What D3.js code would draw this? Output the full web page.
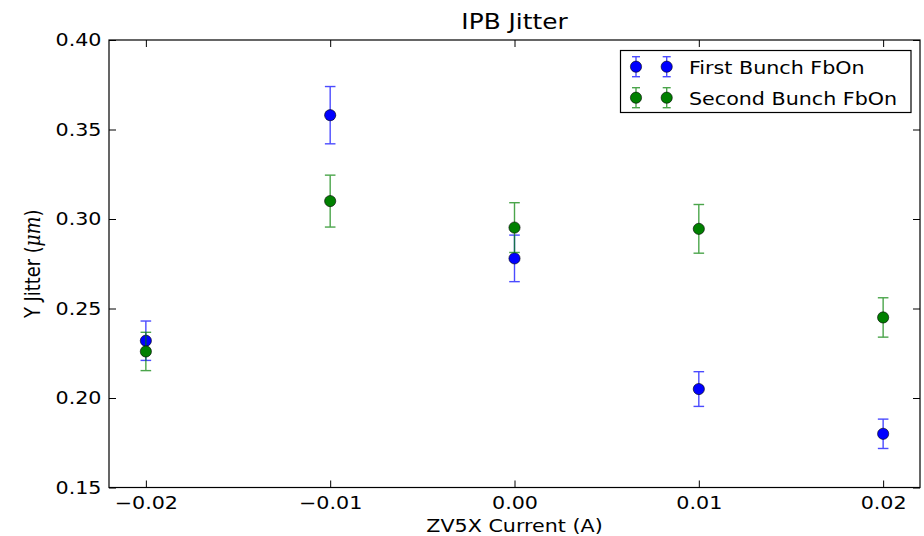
<!DOCTYPE html>
<html>
<head>
<meta charset="utf-8">
<script src="https://cdn.jsdelivr.net/npm/d3@7"></script>
<style>
  body { margin: 0; background: #fff; }
  svg { display: block; }
</style>
</head>
<body>
<script>
const currents = [-0.02, -0.01, 0.0, 0.01, 0.02];
const firstJitter = [0.232, 0.358, 0.278, 0.205, 0.18];
const firstErr = [0.011, 0.016, 0.013, 0.0097, 0.0082];
const secondJitter = [0.226, 0.31, 0.2952, 0.2945, 0.245];
const secondErr = [0.0107, 0.0145, 0.0139, 0.0136, 0.011];
const xTicks = [-0.02, -0.01, 0.0, 0.01, 0.02];
const yTicks = [0.15, 0.2, 0.25, 0.3, 0.35, 0.4];
const seriesNames = ["First Bunch FbOn", "Second Bunch FbOn"];
const seriesColors = ["#0000ff", "#008000"];

const width = 924;
const height = 536;
const plot = { left: 109, right: 920, top: 40, bottom: 487.5 };
const SX = 1.16; // picture is a bit wider than tall
const font = "'DejaVu Sans', sans-serif";
const fontSize = 17.8;

const series = [
  { name: seriesNames[0], color: seriesColors[0], y: firstJitter, err: firstErr },
  { name: seriesNames[1], color: seriesColors[1], y: secondJitter, err: secondErr },
];

const xScale = d3.scaleLinear().domain([-0.022, 0.022]).range([plot.left, plot.right]);
const yScale = d3.scaleLinear().domain([0.15, 0.4]).range([plot.bottom, plot.top]);

const svg = d3
  .select("body")
  .append("svg")
  .attr("width", width)
  .attr("height", height)
  .attr("font-family", font);

// axes, ticks pointing inward on all four sides
const tick = 7;
const fmt = d3.format(".2f");

const xAxis = d3.axisBottom(xScale).tickValues(xTicks).tickSize(-tick).tickPadding(9).tickFormat(fmt);
const yAxis = d3.axisLeft(yScale).tickValues(yTicks).tickSize(-tick).tickPadding(6.5).tickFormat(fmt);
const xTop = d3.axisTop(xScale).tickValues(xTicks).tickSize(-tick).tickFormat("");
const yRight = d3.axisRight(yScale).tickValues(yTicks).tickSize(-tick).tickFormat("");

const axisGroup = svg.append("g");
axisGroup.append("g").attr("transform", `translate(0 ${plot.bottom})`).call(xAxis);
axisGroup.append("g").attr("transform", `translate(${plot.left} 0)`).call(yAxis);
axisGroup.append("g").attr("transform", `translate(0 ${plot.top})`).call(xTop);
axisGroup.append("g").attr("transform", `translate(${plot.right} 0)`).call(yRight);

axisGroup.selectAll(".domain").remove();
axisGroup.selectAll(".tick line").attr("stroke", "#000").attr("stroke-width", 1);
axisGroup
  .selectAll(".tick text")
  .attr("font-family", font)
  .attr("font-size", fontSize)
  .attr("fill", "#000")
  .attr("transform", `scale(${SX},1)`);

svg
  .append("rect")
  .attr("x", plot.left)
  .attr("y", plot.top)
  .attr("width", plot.right - plot.left)
  .attr("height", plot.bottom - plot.top)
  .attr("fill", "none")
  .attr("stroke", "#000")
  .attr("stroke-width", 1.2);

// titles
const cx = (plot.left + plot.right) / 2;
svg
  .append("text")
  .attr("transform", `translate(${cx} 29) scale(${SX},1)`)
  .attr("text-anchor", "middle")
  .attr("font-size", 21.4)
  .text("IPB Jitter");

svg
  .append("text")
  .attr("transform", `translate(${cx} 531.5) scale(${SX},1)`)
  .attr("text-anchor", "middle")
  .attr("font-size", fontSize)
  .text("ZV5X Current (A)");

const yLabel = svg
  .append("text")
  .attr("transform", `translate(39.5 ${(plot.top + plot.bottom) / 2}) scale(${SX},1) rotate(-90)`)
  .attr("text-anchor", "middle")
  .attr("font-size", fontSize);
yLabel.append("tspan").text("Y Jitter (");
yLabel
  .append("tspan")
  .attr("font-family", "'DejaVu Serif', serif")
  .attr("font-style", "italic")
  .attr("font-size", fontSize * 1.05)
  .text("μm");
yLabel.append("tspan").text(")");

// error bars + markers
const capHalf = 5.3;
const markerR = 5.6;

const drawErrorPoint = (g, x, y, lo, hi, color, cap) => {
  const eb = g.append("g").attr("stroke", color).attr("stroke-width", 1.4).attr("opacity", 0.7);
  eb.append("line").attr("x1", x).attr("x2", x).attr("y1", lo).attr("y2", hi);
  eb.append("line").attr("x1", x - cap).attr("x2", x + cap).attr("y1", lo).attr("y2", lo);
  eb.append("line").attr("x1", x - cap).attr("x2", x + cap).attr("y1", hi).attr("y2", hi);
  g.append("circle")
    .attr("cx", x)
    .attr("cy", y)
    .attr("r", markerR)
    .attr("fill", color)
    .attr("stroke", "#000")
    .attr("stroke-width", 0.6);
};

const dataGroup = svg.append("g");
series.forEach((s) => {
  const g = dataGroup.append("g");
  currents.forEach((c, i) => {
    drawErrorPoint(
      g,
      xScale(c),
      yScale(s.y[i]),
      yScale(s.y[i] - s.err[i]),
      yScale(s.y[i] + s.err[i]),
      s.color,
      capHalf
    );
  });
});

// legend
const legend = svg.append("g");
legend
  .append("rect")
  .attr("x", 620.5)
  .attr("y", 50.5)
  .attr("width", 290.5)
  .attr("height", 62)
  .attr("fill", "#fff")
  .attr("stroke", "#000")
  .attr("stroke-width", 1.2);

series.forEach((s, i) => {
  const cy = 66.7 + i * 31;
  [636, 666.7].forEach((mx) => {
    drawErrorPoint(legend, mx, cy, cy + 10, cy - 10, s.color, 4);
  });
  legend
    .append("text")
    .attr("transform", `translate(689 ${cy + 7}) scale(${SX},1)`)
    .attr("font-size", fontSize)
    .text(s.name);
});
</script>
</body>
</html>
